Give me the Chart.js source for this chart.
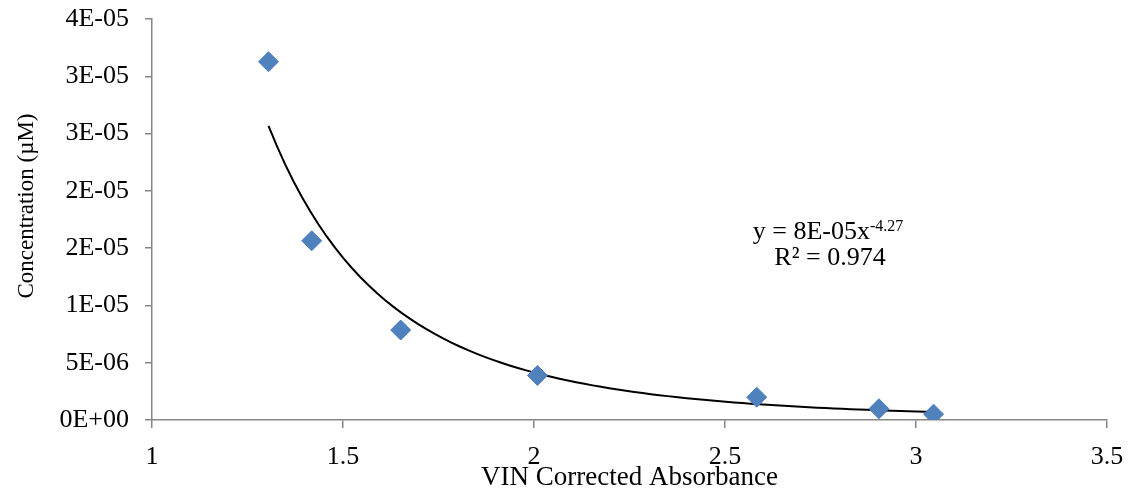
<!DOCTYPE html>
<html><head><meta charset="utf-8">
<script src="https://cdn.jsdelivr.net/npm/chart.js@4.4.0/dist/chart.umd.min.js"></script>
<style>html,body{margin:0;padding:0;background:#fff;overflow:hidden}#wrap{width:1130px;height:504px;position:relative}</style>
</head><body><div id="wrap"><canvas id="c"></canvas></div>
<script>
// ---- data ----
const absorbance    = [1.305, 1.418, 1.651, 2.009, 2.583, 2.903, 3.046];
const concentration = [3.127e-5, 1.564e-5, 7.85e-6, 3.89e-6, 1.99e-6, 9.8e-7, 5.1e-7];
const yTickValues = [0, 5e-6, 1e-5, 1.5e-5, 2e-5, 2.5e-5, 3e-5, 3.5e-5];
const yTickLabels = ['0E+00','5E-06','1E-05','2E-05','2E-05','3E-05','3E-05','4E-05'];
const xTickValues = [1, 1.5, 2, 2.5, 3, 3.5];
const xTickLabels = ['1','1.5','2','2.5','3','3.5'];
const xTitle = 'VIN Corrected Absorbance';
const yTitle = 'Concentration (\u00B5M)';
// trendline shown in the chart: y = 8E-05 x^-4.27, R² = 0.974
const trendCoefText = '8E-05';
const trendExpText = '-4.27';
const rSquaredText = '0.974';
const trendCoef = Number(trendCoefText);
const trendExp = Number(trendExpText);

const trendPts = [];
const xmin = Math.min(...absorbance), xmax = Math.max(...absorbance);
const N = 80;
for (let i = 0; i <= N; i++) {
  const x = xmin + (xmax - xmin) * i / N;
  trendPts.push({x: x, y: trendCoef * Math.pow(x, trendExp)});
}

const FONT = "'Liberation Serif','Times New Roman',serif";
const AXIS = '#868686';

const textPlugin = {
  id: 'texts',
  afterDatasetsDraw(chart) {
    const ctx = chart.ctx;
    ctx.save();
    ctx.fillStyle = '#000';
    ctx.textBaseline = 'alphabetic';
    // trendline equation
    const cx = 828;
    const main = 'y = ' + trendCoefText + 'x';
    ctx.font = '26px ' + FONT;
    const w1 = ctx.measureText(main).width;
    ctx.font = '16px ' + FONT;
    const w2 = ctx.measureText(trendExpText).width;
    const start = cx - (w1 + w2) / 2;
    ctx.font = '26px ' + FONT;
    ctx.textAlign = 'left';
    ctx.fillText(main, start, 239);
    ctx.font = '16px ' + FONT;
    ctx.fillText(trendExpText, start + w1, 231);
    ctx.font = '26px ' + FONT;
    ctx.textAlign = 'center';
    ctx.fillText('R\u00B2 = ' + rSquaredText, 830, 265);
    // y axis title
    ctx.translate(33, 206);
    ctx.rotate(-Math.PI / 2);
    ctx.font = '23px ' + FONT;
    ctx.textAlign = 'center';
    ctx.fillText(yTitle, 0, 0);
    ctx.restore();
  }
};

function noPad(s) { s.paddingTop = 0; s.paddingBottom = 0; s.paddingLeft = 0; s.paddingRight = 0; }

new Chart(document.getElementById('c'), {
  type: 'scatter',
  data: {
    datasets: [
      {
        label: 'Concentration',
        data: absorbance.map((x, i) => ({x: x, y: concentration[i]})),
        pointStyle: 'rectRot',
        pointRadius: 10,
        pointHoverRadius: 10,
        backgroundColor: '#4F81BD',
        borderColor: '#4A7EBB',
        borderWidth: 1,
        order: 1
      },
      {
        label: 'Power trendline',
        type: 'line',
        data: trendPts,
        borderColor: '#000',
        borderWidth: 2,
        pointRadius: 0,
        fill: false,
        tension: 0,
        order: 2
      }
    ]
  },
  options: {
    responsive: true,
    maintainAspectRatio: false,
    animation: false,
    devicePixelRatio: 1,
    layout: {padding: {top: 19, right: 23, left: 0, bottom: 0}},
    plugins: {legend: {display: false}, tooltip: {enabled: false}},
    scales: {
      x: {
        type: 'linear',
        min: 1, max: 3.5,
        afterBuildTicks: s => { s.ticks = xTickValues.map(v => ({value: v})); },
        afterFit: s => { s.height = 84; noPad(s); },
        ticks: {
          callback: (v, i) => xTickLabels[i],
          color: '#000',
          font: {family: FONT, size: 26},
          padding: 14,
          maxRotation: 0
        },
        grid: {drawOnChartArea: false, drawTicks: true, tickLength: 8, color: AXIS, lineWidth: 1.5},
        border: {color: AXIS, width: 1.5},
        title: {display: true, text: xTitle, color: '#000',
                font: {family: FONT, size: 27}, padding: {top: 0, bottom: 10}}
      },
      y: {
        type: 'linear',
        min: 0, max: 3.5e-5,
        afterBuildTicks: s => { s.ticks = yTickValues.map(v => ({value: v})); },
        afterFit: s => { s.width = 152; noPad(s); },
        ticks: {
          callback: (v, i) => yTickLabels[i],
          color: '#000',
          font: {family: FONT, size: 26},
          padding: 16
        },
        grid: {drawOnChartArea: false, drawTicks: true, tickLength: 7, color: AXIS, lineWidth: 1.5},
        border: {color: AXIS, width: 1.5},
        title: {display: false}
      }
    }
  },
  plugins: [textPlugin]
});
</script></body></html>
